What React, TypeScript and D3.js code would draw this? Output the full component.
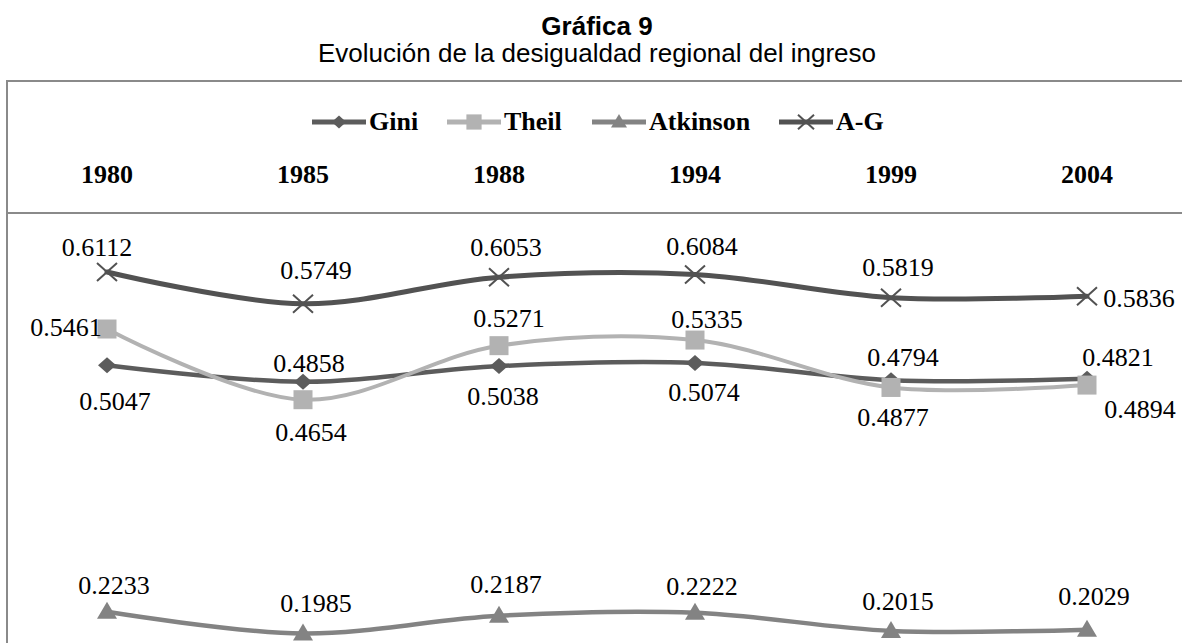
import React from 'react';
import * as d3 from 'd3';

// ---- data ----
const years = ['1980', '1985', '1988', '1994', '1999', '2004'];
// plotted values (as positioned in the picture)
const gini = [0.5047, 0.4858, 0.5038, 0.5074, 0.4877, 0.4894];
const theil = [0.5461, 0.4654, 0.5271, 0.5335, 0.4794, 0.4821];
const atkinson = [0.2233, 0.1985, 0.2187, 0.2222, 0.2015, 0.2029];
const ag = [0.6112, 0.5749, 0.6053, 0.6084, 0.5819, 0.5836];
// data-label texts as printed on the chart
const giniLabels = ['0.5047', '0.4858', '0.5038', '0.5074', '0.4794', '0.4821'];
const theilLabels = ['0.5461', '0.4654', '0.5271', '0.5335', '0.4877', '0.4894'];
const atkinsonLabels = ['0.2233', '0.1985', '0.2187', '0.2222', '0.2015', '0.2029'];
const agLabels = ['0.6112', '0.5749', '0.6053', '0.6084', '0.5819', '0.5836'];
const seriesNames = ['Gini', 'Theil', 'Atkinson', 'A-G'];
const title = 'Gráfica 9';
const subtitle = 'Evolución de la desigualdad regional del ingreso';

// ---- layout / style ----
const W = 1182;
const H = 643;
const CX = 597;
const serif = "'Liberation Serif', 'Times New Roman', serif";
const sans = "'Liberation Sans', Arial, sans-serif";
const frame = '#8a8a8a';

// label offsets (center of label relative to the point)
const giniOff = [[8, 36], [6, -18], [4, 30], [9, 29], [12, -23], [31, -21]];
const theilOff = [[-41, -2], [8, 33], [10, -27], [12, -21], [2, 30], [53, 24]];
const atkOff = [[7, -26], [13, -30], [7, -31], [7, -26], [7, -29], [7, -33]];
const agOff = [[-10, -25], [13, -33], [7, -30], [7, -28], [7, -30], [52, 2]];

type MarkerKind = 'diamond' | 'square' | 'triangle' | 'x';

const series = [
  { name: seriesNames[0], values: gini, labels: giniLabels, off: giniOff, color: '#5c5c5c', width: 4.5, marker: 'diamond' as MarkerKind },
  { name: seriesNames[1], values: theil, labels: theilLabels, off: theilOff, color: '#b2b2b2', width: 4, marker: 'square' as MarkerKind },
  { name: seriesNames[2], values: atkinson, labels: atkinsonLabels, off: atkOff, color: '#838383', width: 4.5, marker: 'triangle' as MarkerKind },
  { name: seriesNames[3], values: ag, labels: agLabels, off: agOff, color: '#525252', width: 5, marker: 'x' as MarkerKind },
];

function Marker({ kind, x, y, color, s = 1 }: { kind: MarkerKind; x: number; y: number; color: string; s?: number }) {
  const t = `translate(${x},${y}) scale(${s})`;
  if (kind === 'diamond') return <path transform={t} d="M0,-8 L9,0 L0,8 L-9,0 Z" fill={color} />;
  if (kind === 'square') return <rect transform={t} x={-9.5} y={-9.5} width={19} height={19} fill={color} />;
  if (kind === 'triangle') return <path transform={t} d="M0,-10 L10,7 L-10,7 Z" fill={color} />;
  return (
    <path transform={t} d="M-10,-9 L10,9 M-10,9 L10,-9" stroke={color} strokeWidth={2 / s} fill="none" />
  );
}

export default function App() {
  const x = d3.scalePoint<string>().domain(years).range([9, 1185]).padding(0.5);
  const y = d3.scaleLinear().domain([0, 0.7]).range([807.4, 807.4 - 0.7 * 876]);
  const line = d3
    .line<number>()
    .x((_, i) => x(years[i]) as number)
    .y((v) => y(v))
    .curve(d3.curveCatmullRom.alpha(0.5));

  const legendX = [312, 447, 592, 779];
  const legendY = 122;

  return (
    <svg width={W} height={H} style={{ position: 'absolute', left: 0, top: 0, background: '#fff' }}>
      <rect x={0} y={0} width={W} height={H} fill="#fff" />
      {/* titles */}
      <text x={CX} y={35} textAnchor="middle" fontFamily={sans} fontWeight="bold" fontSize={26} fill="#000">
        {title}
      </text>
      <text x={CX} y={62} textAnchor="middle" fontFamily={sans} fontSize={26} fill="#000">
        {subtitle}
      </text>

      {/* frame */}
      <line x1={7} x2={W} y1={81} y2={81} stroke={frame} strokeWidth={2} />
      <line x1={7} x2={W} y1={213} y2={213} stroke={frame} strokeWidth={2} />
      <line x1={7} x2={7} y1={80} y2={H} stroke={frame} strokeWidth={2} />

      {/* legend */}
      {series.map((s, i) => (
        <g key={s.name}>
          <line x1={legendX[i]} x2={legendX[i] + 54} y1={legendY} y2={legendY} stroke={s.color} strokeWidth={5} />
          <Marker kind={s.marker} x={legendX[i] + 27} y={legendY} color={s.color} s={0.8} />
          <text x={legendX[i] + 57} y={130} fontFamily={serif} fontWeight="bold" fontSize={26} fill="#000">
            {s.name}
          </text>
        </g>
      ))}

      {/* year categories on top */}
      {years.map((yr) => (
        <text key={yr} x={x(yr) as number} y={183} textAnchor="middle" fontFamily={serif} fontWeight="bold" fontSize={26} fill="#000">
          {yr}
        </text>
      ))}

      {/* series */}
      {series.map((s) => (
        <g key={s.name}>
          <path d={line(s.values) || ''} fill="none" stroke={s.color} strokeWidth={s.width} strokeLinecap="round" />
          {s.values.map((v, i) => (
            <Marker key={i} kind={s.marker} x={x(years[i]) as number} y={y(v)} color={s.color} />
          ))}
        </g>
      ))}

      {/* data labels */}
      {series.map((s) => (
        <g key={s.name + '-lab'}>
          {s.values.map((v, i) => (
            <text
              key={i}
              x={(x(years[i]) as number) + s.off[i][0]}
              y={y(v) + s.off[i][1] + 8.6}
              textAnchor="middle"
              fontFamily={serif}
              fontSize={26}
              fill="#000"
            >
              {s.labels[i]}
            </text>
          ))}
        </g>
      ))}
    </svg>
  );
}
